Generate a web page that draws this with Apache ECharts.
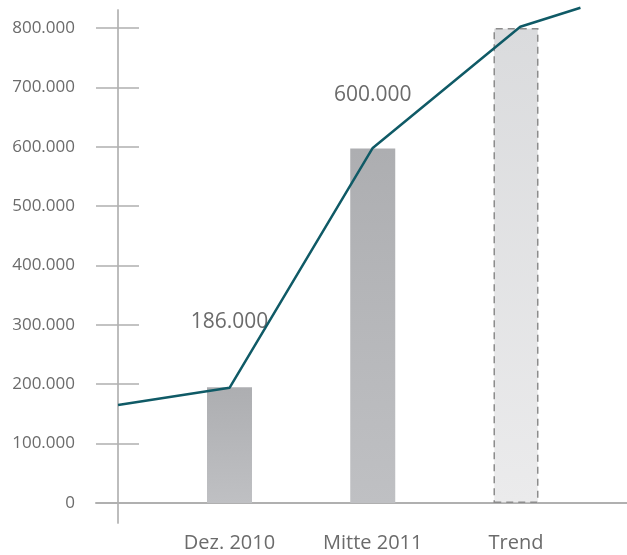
<!DOCTYPE html>
<html>
<head>
<meta charset="utf-8">
<script src="https://cdn.jsdelivr.net/npm/echarts@6/dist/echarts.min.js"></script>
<style>html,body{margin:0;padding:0;background:#fff}#c{width:627px;height:555px}</style>
</head>
<body>
<div id="c"></div>
<script>
// ---- data ----
var categories = ['Dez. 2010', 'Mitte 2011', 'Trend'];
var categoryPos = [1, 2, 3];
var barValues = [195000, 597000, 800000];
var barLabels = ['186.000', '600.000', ''];
var lineX = [0.222, 1.0, 2.0, 3.03, 3.45];
var lineY = [165000, 194000, 598000, 802000, 834000];
var yTicks = [0, 100000, 200000, 300000, 400000, 500000, 600000, 700000, 800000];

var chart = echarts.init(document.getElementById('c'));
var font = '"Open Sans", "Noto Sans", sans-serif';
var txt = '#6b6b6b';
var labelDist = [55, 43, 0];

function fmt(v) {
  if (v === 0) return '0';
  var s = String(Math.round(v));
  return s.replace(/\B(?=(\d{3})+(?!\d))/g, '.');
}

var barData = barValues.map(function (v, i) {
  var isTrend = i === 2;
  return {
    value: [categoryPos[i], v],
    itemStyle: isTrend ? {
      color: new echarts.graphic.LinearGradient(0, 0, 0, 1, [
        {offset: 0, color: '#dadbdd'}, {offset: 1, color: '#ebebec'}]),
      borderColor: '#8c8c8c', borderWidth: 1.5, borderType: [7, 5]
    } : {
      color: new echarts.graphic.LinearGradient(0, 0, 0, 1, [
        {offset: 0, color: '#adaeb1'}, {offset: 1, color: '#bfc0c3'}])
    },
    label: {
      show: barLabels[i] !== '',
      position: 'top',
      distance: labelDist[i],
      formatter: barLabels[i],
      fontSize: 21, color: txt, fontFamily: font
    }
  };
});

var yCommon = {
  type: 'value', min: -33700, max: 830300, offset: -22,
  splitLine: {show: false},
  axisLine: {show: true, lineStyle: {color: '#b8b8b8', width: 1.5}}
};

chart.setOption({
  animation: false,
  grid: {left: 96, right: 0, top: 10, bottom: 32, containLabel: false, outerBoundsMode: 'none'},
  xAxis: {
    type: 'value', min: 0.068, max: 3.775,
    splitLine: {show: false},
    axisTick: {show: false},
    axisLine: {show: true, onZero: true, lineStyle: {color: '#b0b0b0', width: 2}},
    axisLabel: {
      customValues: categoryPos,
      formatter: function (v) { return categories[Math.round(v) - 1] || ''; },
      margin: 10, fontSize: 20, color: txt, fontFamily: font
    }
  },
  yAxis: [
    Object.assign({}, yCommon, {
      axisTick: {show: true, length: 22, customValues: yTicks, lineStyle: {color: '#b0b0b0', width: 1.5}},
      axisLabel: {customValues: yTicks, formatter: fmt, margin: 43, fontSize: 17, color: txt, fontFamily: font}
    }),
    Object.assign({}, yCommon, {
      position: 'left',
      axisTick: {show: true, inside: true, length: 21, customValues: yTicks, lineStyle: {color: '#b0b0b0', width: 1.5}},
      axisLabel: {show: false}
    })
  ],
  series: [
    {
      type: 'bar', xAxisIndex: 0, yAxisIndex: 0, barWidth: 45,
      data: barData
    },
    {
      type: 'line', xAxisIndex: 0, yAxisIndex: 0, clip: false,
      symbol: 'none',
      lineStyle: {color: '#0f5a66', width: 2.5},
      data: lineX.map(function (x, i) { return [x, lineY[i]]; }),
      z: 5
    }
  ]
});
</script>
</body>
</html>
